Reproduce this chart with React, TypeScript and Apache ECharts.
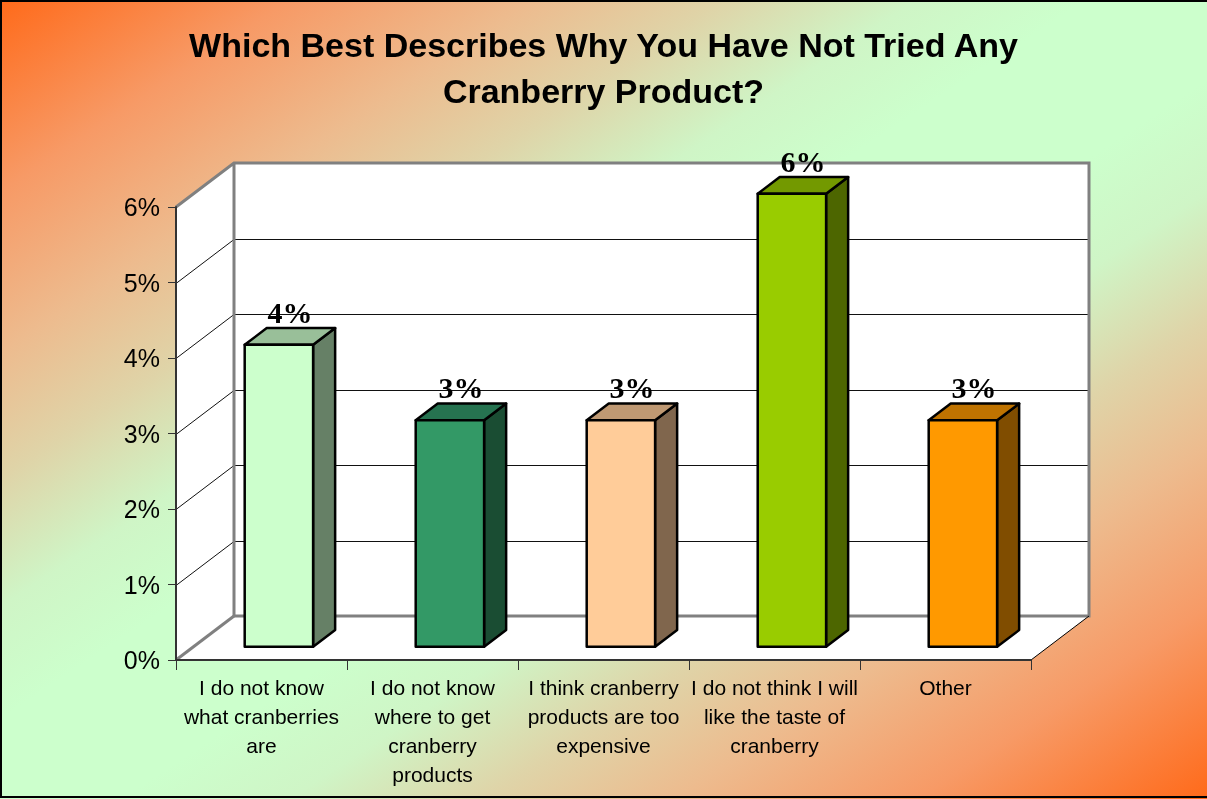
import React, { useEffect, useRef } from 'react';
import * as echarts from 'echarts';

const titleText = 'Which Best Describes Why You Have Not Tried Any\nCranberry Product?';
const categories = [
  'I do not know\nwhat cranberries\nare',
  'I do not know\nwhere to get\ncranberry\nproducts',
  'I think cranberry\nproducts are too\nexpensive',
  'I do not think I will\nlike the taste of\ncranberry',
  'Other',
];
const values = [4, 3, 3, 6, 3];
const yTicks = [0, 1, 2, 3, 4, 5, 6];
const frontColors = ['#CCFFCC', '#339966', '#FFCC99', '#99CC00', '#FF9900'];
const topColors = ['#99BF99', '#267350', '#BF9973', '#739900', '#BF7300'];
const sideColors = ['#668066', '#1A4D33', '#80664D', '#4D6600', '#804D00'];

const W = 1207;
const H = 799;
const DX = 58;
const DY = 44;
const D_FRONT = 0.3;
const D_BACK = 0.68;
const BAR_RATIO = 0.4;
const SANS = "'Liberation Sans', Arial, sans-serif";
const SERIF = "'Liberation Serif', 'Times New Roman', serif";

export default function App() {
  const ref = useRef<HTMLDivElement>(null);
  useEffect(() => {
    if (!ref.current) return;
    const chart = echarts.init(ref.current, undefined, { renderer: 'svg' });
    const k = (2 * W * H) / (W * W + H * H);
    const option: any = {
      animation: false,
      title: {
        text: titleText,
        left: 'center',
        top: 22,
        padding: 0,
        textStyle: { fontFamily: SANS, fontSize: 34, fontWeight: 'bold', color: '#000', lineHeight: 46 },
      },
      graphic: [
        {
          type: 'rect',
          z: -100,
          silent: true,
          shape: { x: 0, y: 0, width: W, height: H },
          style: {
            fill: {
              type: 'linear',
              global: true,
              x: 0,
              y: 0,
              x2: H * k,
              y2: W * k,
              colorStops: [
                { offset: 0, color: '#FF6A1A' },
                { offset: 0.12, color: '#F79A66' },
                { offset: 0.22, color: '#EDBB8E' },
                { offset: 0.3, color: '#DFD4A8' },
                { offset: 0.38, color: '#CFF5C6' },
                { offset: 0.45, color: '#CCFFCC' },
                { offset: 0.55, color: '#CCFFCC' },
                { offset: 0.62, color: '#CFF5C6' },
                { offset: 0.7, color: '#DFD4A8' },
                { offset: 0.78, color: '#EDBB8E' },
                { offset: 0.88, color: '#F79A66' },
                { offset: 1, color: '#FF6A1A' },
              ],
            },
          },
        },
        {
          type: 'rect',
          z: 100,
          silent: true,
          shape: { x: 1, y: 1, width: W + 10, height: 796 },
          style: { fill: 'none', stroke: '#000', lineWidth: 2 },
        },
      ],
      grid: { left: 176, right: 176, top: 207, bottom: 139, containLabel: false },
      xAxis: {
        type: 'category',
        data: categories,
        z: 10,
        axisLine: { show: true, lineStyle: { color: '#333', width: 2 } },
        axisTick: { show: true, length: 10, lineStyle: { color: '#333', width: 1 } },
        axisLabel: {
          interval: 0,
          fontFamily: SANS,
          fontSize: 21,
          lineHeight: 29,
          color: '#000',
          margin: 13,
        },
        splitLine: { show: false },
      },
      yAxis: {
        type: 'value',
        min: 0,
        max: 6,
        interval: 1,
        z: 10,
        axisLine: { show: true, lineStyle: { color: '#333', width: 2 } },
        axisTick: { show: true, length: 8, lineStyle: { color: '#333', width: 1 } },
        axisLabel: { formatter: '{value}%', fontFamily: SANS, fontSize: 25, color: '#000', margin: 16 },
        splitLine: { show: false },
      },
      series: [
        {
          type: 'custom',
          z: 1,
          silent: true,
          data: [[0, 0]],
          renderItem: (_params: any, api: any) => {
            const p0 = api.coord([0, 0]);
            const band = api.size([1, 0])[0];
            const xl = p0[0] - band / 2;
            const xr = api.coord([categories.length - 1, 0])[0] + band / 2;
            const y0 = p0[1];
            const ytop = api.coord([0, yTicks[yTicks.length - 1]])[1];
            const children: any[] = [];
            children.push({
              type: 'polygon',
              shape: { points: [[xl, y0], [xr, y0], [xr + DX, y0 - DY], [xl + DX, y0 - DY]] },
              style: { fill: '#fff' },
            });
            children.push({
              type: 'polygon',
              shape: { points: [[xl, y0], [xl, ytop], [xl + DX, ytop - DY], [xl + DX, y0 - DY]] },
              style: { fill: '#fff' },
            });
            children.push({
              type: 'rect',
              shape: { x: xl + DX, y: ytop - DY, width: xr - xl, height: y0 - ytop },
              style: { fill: '#fff' },
            });
            yTicks.slice(1, yTicks.length - 1).forEach((v) => {
              const y = Math.round(api.coord([0, v])[1]) + 0.5;
              children.push({
                type: 'line',
                shape: { x1: xl + DX, y1: y - DY, x2: xr + DX, y2: y - DY },
                style: { stroke: '#111', lineWidth: 1.2 },
              });
              children.push({
                type: 'line',
                shape: { x1: xl, y1: y, x2: xl + DX, y2: y - DY },
                style: { stroke: '#111', lineWidth: 1 },
              });
            });
            children.push({
              type: 'polyline',
              shape: {
                points: [
                  [xl, ytop],
                  [xl + DX, ytop - DY],
                  [xr + DX, ytop - DY],
                  [xr + DX, y0 - DY],
                  [xl + DX, y0 - DY],
                  [xl + DX, ytop - DY],
                ],
              },
              style: { stroke: '#808080', lineWidth: 3, fill: 'none' },
            });
            children.push({
              type: 'line',
              shape: { x1: xl, y1: y0, x2: xl + DX, y2: y0 - DY },
              style: { stroke: '#808080', lineWidth: 3 },
            });
            children.push({
              type: 'line',
              shape: { x1: xr, y1: y0, x2: xr + DX, y2: y0 - DY },
              style: { stroke: '#000', lineWidth: 1 },
            });
            return { type: 'group', children };
          },
        },
        {
          type: 'custom',
          z: 3,
          data: values.map((v, i) => [i, v]),
          renderItem: (params: any, api: any) => {
            const i = api.value(0);
            const v = api.value(1);
            const idx = params.dataIndex;
            const base = api.coord([i, 0]);
            const top = api.coord([i, v]);
            const band = api.size([1, 0])[0];
            const bw = band * BAR_RATIO;
            const x1 = base[0] - bw / 2 + DX * D_FRONT;
            const x2 = x1 + bw;
            const yb = base[1] - DY * D_FRONT;
            const yt = top[1] - DY * D_FRONT;
            const ddx = DX * (D_BACK - D_FRONT);
            const ddy = DY * (D_BACK - D_FRONT);
            const stroke = { stroke: '#000', lineWidth: 2.5, lineJoin: 'round' };
            return {
              type: 'group',
              children: [
                {
                  type: 'polygon',
                  shape: { points: [[x2, yt], [x2 + ddx, yt - ddy], [x2 + ddx, yb - ddy], [x2, yb]] },
                  style: { fill: sideColors[idx], ...stroke },
                },
                {
                  type: 'polygon',
                  shape: { points: [[x1, yt], [x2, yt], [x2 + ddx, yt - ddy], [x1 + ddx, yt - ddy]] },
                  style: { fill: topColors[idx], ...stroke },
                },
                {
                  type: 'rect',
                  shape: { x: x1, y: yt, width: bw, height: yb - yt },
                  style: { fill: frontColors[idx], ...stroke },
                },
                {
                  type: 'text',
                  style: {
                    x: x1 + bw / 2 + ddx / 2,
                    y: yt - ddy - 1,
                    text: v + '%',
                    align: 'center',
                    verticalAlign: 'bottom',
                    font: 'bold 30px ' + SERIF,
                    fill: '#000',
                  },
                },
              ],
            };
          },
        },
      ],
    };
    chart.setOption(option);
    return () => chart.dispose();
  }, []);
  return <div ref={ref} style={{ position: 'fixed', left: 0, top: 0, width: W, height: H }} />;
}
